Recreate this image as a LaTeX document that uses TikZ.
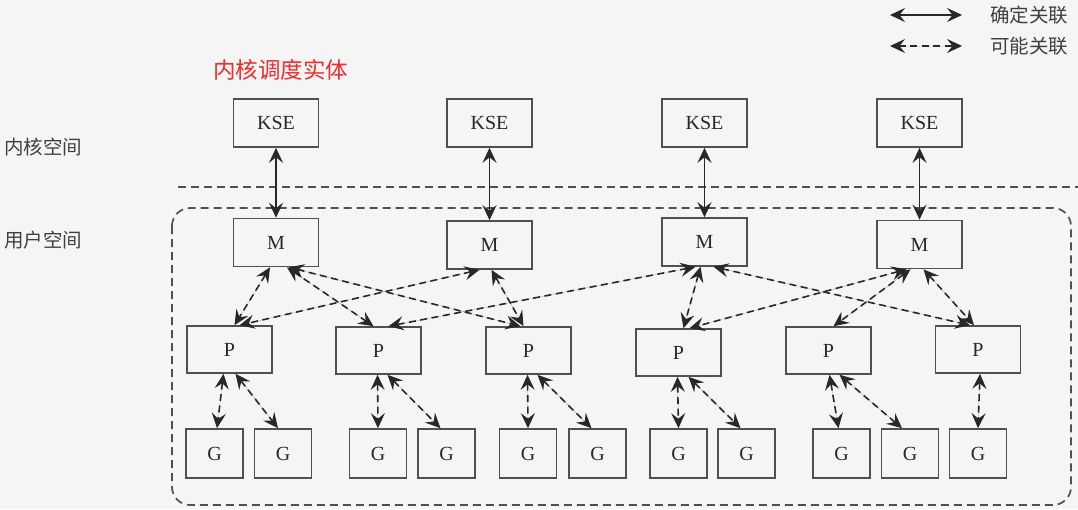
\documentclass[tikz,border=0pt]{standalone}
\usepackage{fontspec}
\setmainfont{Liberation Serif}
\newfontfamily\cjk{Noto Sans CJK SC}
\usepackage{xcolor}
\usetikzlibrary{arrows.meta}
\definecolor{bg}{RGB}{245,245,245}
\definecolor{boxline}{RGB}{80,80,80}
\definecolor{ink}{RGB}{40,40,40}
\definecolor{redlbl}{RGB}{240,42,42}

\begin{document}
\begin{tikzpicture}[x=1pt,y=-1pt,
	box/.style={draw=boxline, line width=1.6pt, minimum width=85pt, minimum height=48pt, inner sep=0pt, text=ink, font=\fontsize{20}{20}\selectfont},
	gbox/.style={box, minimum width=57pt, minimum height=49pt},
	tag/.style={anchor=west, inner sep=0pt, text=black!75, font=\cjk\fontsize{19.5}{20}\selectfont},
	sure/.style={{Stealth[length=15pt,width=14pt,inset=5.5pt]}-{Stealth[length=15pt,width=14pt,inset=5.5pt]}, line width=1.6pt, draw=ink, fill=ink},
	maybe/.style={sure, dash pattern=on 7pt off 4.5pt}]
\fill[bg] (0,0) rectangle (1078,509);
\useasboundingbox (0,0) rectangle (1078,509);

\node[tag, anchor=center, text=redlbl, font=\cjk\fontsize{22.5}{23}\selectfont] (kselbl) at (280.5,70) {内核调度实体};
\node[tag] (kspace) at (4,147) {内核空间};
\node[tag] (uspace) at (4,240) {用户空间};

\coordinate (s1) at (890,15);
\coordinate (s2) at (962,15);
\coordinate (d1) at (890,46);
\coordinate (d2) at (962,46);
\draw[sure] (s1) -- (s2);
\draw[maybe] (d1) -- (d2);
\node[tag] (suretxt) at (990,15) {确定关联};
\node[tag] (maybetxt) at (990,46) {可能关联};

\draw[boxline, line width=1.7pt, dash pattern=on 8pt off 5pt] (178,187) -- (1078,187);
\draw[boxline, line width=1.7pt, dash pattern=on 8pt off 5pt, rounded corners=18pt] (172,208) rectangle (1071,505);

\foreach \n/\x/\y in {1/276/242.5, 2/489.5/245, 3/704.5/242, 4/919.5/244.5} {
	\node[box] (K\n) at (\x,123) {KSE};
	\node[box] (M\n) at (\x,\y) {M};
	\draw[sure] (K\n.south) -- (M\n.north);
}
\foreach \n/\x/\y in {1/229.5/349.5, 2/378.5/350.5, 3/528.5/350.5, 4/678.5/352.5, 5/828.5/350.5, 6/978/349.5}
	\node[box, minimum height=47pt] (P\n) at (\x,\y) {P};
\foreach \n/\x in {1/214.5, 2/283, 3/378, 4/446.5, 5/528, 6/597.5, 7/678.5, 8/746.5, 9/841.5, 10/910, 11/978}
	\node[gbox] (G\n) at (\x,453.5) {G};

\foreach \a/\b/\s/\t in {1/1/-6/5, 1/2/11/-5, 1/3/13/-8, 2/1/-10/10, 2/3/2/-5, 3/2/-9/10, 3/4/-4/5, 3/6/9/-8, 4/4/-13/11, 4/5/-9/5, 4/6/4/-4}
	\draw[maybe] ([xshift=\s pt]M\a.south) -- ([xshift=\t pt]P\b.north);
\foreach \a/\b/\s/\t in {1/1/-6/2.5, 1/2/6/-5, 2/3/-1/0, 2/4/9/-6, 3/5/-1/0, 3/6/9/-6, 4/7/-1/0, 4/8/10/-6, 5/9/1/-3, 5/10/11/-8, 6/11/2/0}
	\draw[maybe] ([xshift=\s pt]P\a.south) -- ([xshift=\t pt]G\b.north);
\end{tikzpicture}
\end{document}
